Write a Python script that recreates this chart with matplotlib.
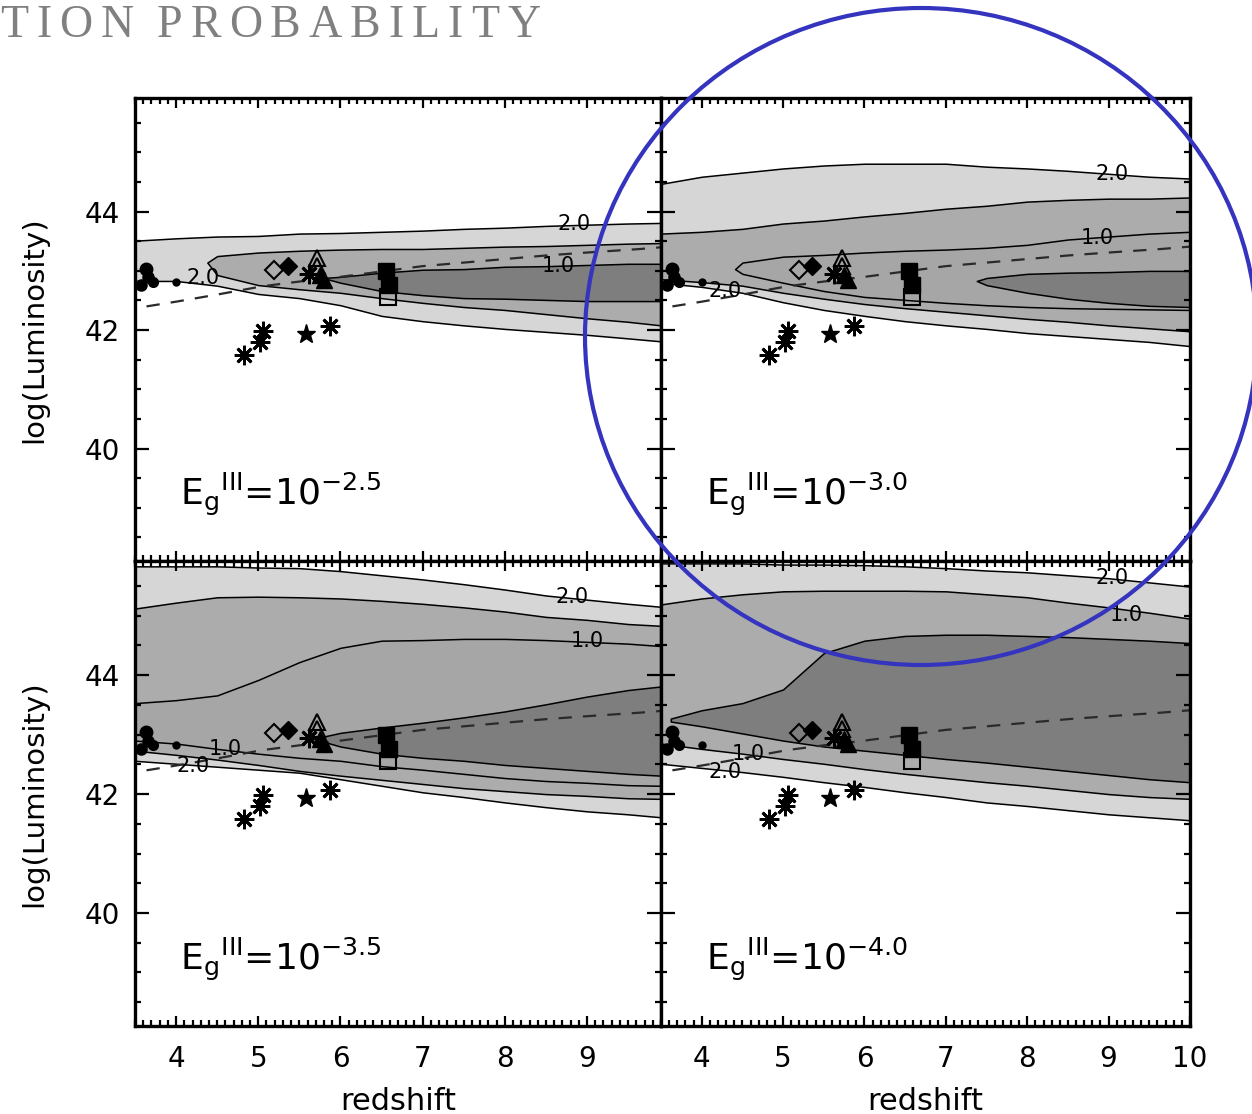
import matplotlib
matplotlib.use("Agg")
import matplotlib.pyplot as plt
from matplotlib.patches import Ellipse
from matplotlib.ticker import MultipleLocator

W, H = 1252, 1114

# redshift grids used by the contour boundaries
z_left = [3.5, 4.0, 4.5, 5.0, 5.5, 6.0, 6.5, 7.0, 7.5, 8.0, 8.5, 9.0, 9.5, 9.9]
z_right = [3.5, 4.0, 4.5, 5.0, 5.5, 6.0, 6.5, 7.0, 7.5, 8.0, 8.5, 9.0, 9.5, 10.0]

# panel a : Eg = 10^-2.5
a_light_hi = [43.51, 43.55, 43.58, 43.59, 43.63, 43.64, 43.66, 43.68, 43.71, 43.73, 43.76, 43.78, 43.80, 43.81]
a_light_lo = [42.83, 42.83, 42.75, 42.61, 42.54, 42.42, 42.24, 42.15, 42.08, 42.02, 41.97, 41.92, 41.86, 41.81]
a_mid_z = [4.38, 4.5, 5.0, 5.5, 6.0, 6.5, 7.0, 7.5, 8.0, 8.5, 9.0, 9.5, 9.9]
a_mid_hi = [43.14, 43.25, 43.31, 43.34, 43.36, 43.37, 43.37, 43.39, 43.41, 43.42, 43.44, 43.46, 43.47]
a_mid_lo = [43.14, 42.93, 42.76, 42.69, 42.63, 42.54, 42.46, 42.39, 42.34, 42.27, 42.20, 42.14, 42.08]
a_dark_z = [5.79, 6.0, 6.5, 7.0, 7.5, 8.0, 8.5, 9.0, 9.5, 9.9]
a_dark_hi = [42.88, 42.90, 42.97, 43.02, 43.03, 43.07, 43.08, 43.10, 43.12, 43.12]
a_dark_lo = [42.88, 42.80, 42.66, 42.59, 42.54, 42.53, 42.51, 42.49, 42.49, 42.49]

# panel b : Eg = 10^-3.0
b_light_hi = [44.47, 44.59, 44.66, 44.73, 44.78, 44.81, 44.81, 44.81, 44.76, 44.73, 44.69, 44.64, 44.59, 44.56]
b_light_lo = [42.80, 42.73, 42.63, 42.47, 42.34, 42.24, 42.15, 42.08, 42.02, 41.95, 41.90, 41.85, 41.80, 41.73]
b_mid_hi = [43.63, 43.66, 43.71, 43.80, 43.85, 43.92, 43.98, 44.05, 44.10, 44.17, 44.20, 44.22, 44.22, 44.24]
b_mid_lo = [42.86, 42.81, 42.75, 42.63, 42.53, 42.44, 42.37, 42.31, 42.25, 42.19, 42.14, 42.08, 42.03, 41.98]
b_lens_z = [4.41, 4.5, 5.0, 5.5, 6.0, 6.5, 7.0, 7.5, 8.0, 8.5, 9.0, 9.5, 10.0]
b_lens_hi = [43.03, 43.14, 43.24, 43.27, 43.31, 43.34, 43.36, 43.39, 43.44, 43.53, 43.58, 43.63, 43.66]
b_lens_lo = [43.03, 42.95, 42.80, 42.66, 42.56, 42.51, 42.46, 42.42, 42.39, 42.37, 42.36, 42.35, 42.34]
b_dark_z = [7.38, 7.5, 8.0, 8.5, 9.0, 9.5, 10.0]
b_dark_hi = [42.83, 42.88, 42.95, 42.97, 42.98, 43.00, 43.00]
b_dark_lo = [42.83, 42.76, 42.63, 42.53, 42.46, 42.41, 42.39]

# panel c : Eg = 10^-3.5
c_light_hi = [45.83, 45.83, 45.83, 45.81, 45.80, 45.75, 45.68, 45.61, 45.53, 45.44, 45.34, 45.27, 45.20, 45.15]
c_light_lo = [42.56, 42.51, 42.46, 42.41, 42.36, 42.25, 42.14, 42.03, 41.95, 41.86, 41.78, 41.71, 41.66, 41.61]
c_mid_hi = [45.12, 45.22, 45.31, 45.32, 45.31, 45.29, 45.25, 45.20, 45.14, 45.07, 44.98, 44.93, 44.86, 44.83]
c_mid_lo = [42.73, 42.66, 42.58, 42.49, 42.39, 42.31, 42.24, 42.17, 42.10, 42.05, 42.00, 41.97, 41.93, 41.92]
c_lens_hi = [43.53, 43.58, 43.66, 43.92, 44.22, 44.46, 44.58, 44.59, 44.61, 44.61, 44.59, 44.56, 44.53, 44.49]
c_lens_lo = [42.90, 42.85, 42.76, 42.68, 42.61, 42.56, 42.47, 42.41, 42.34, 42.27, 42.22, 42.19, 42.15, 42.14]
c_dark_z = [5.67, 6.0, 6.5, 7.0, 7.5, 8.0, 8.5, 9.0, 9.5, 9.9]
c_dark_hi = [42.93, 43.03, 43.12, 43.20, 43.29, 43.39, 43.51, 43.64, 43.75, 43.81]
c_dark_lo = [42.93, 42.80, 42.68, 42.61, 42.56, 42.49, 42.44, 42.39, 42.34, 42.31]

# panel d : Eg = 10^-4.0
d_light_hi = [45.88, 45.88, 45.88, 45.86, 45.86, 45.85, 45.83, 45.80, 45.76, 45.73, 45.68, 45.63, 45.56, 45.49]
d_light_lo = [42.51, 42.44, 42.37, 42.29, 42.20, 42.12, 42.03, 41.95, 41.86, 41.80, 41.73, 41.66, 41.61, 41.56]
d_mid_hi = [45.19, 45.29, 45.36, 45.41, 45.42, 45.42, 45.42, 45.41, 45.36, 45.31, 45.22, 45.14, 45.05, 44.95]
d_mid_lo = [42.85, 42.76, 42.68, 42.59, 42.51, 42.42, 42.34, 42.27, 42.20, 42.14, 42.07, 42.00, 41.95, 41.92]
d_dark_z = [3.62, 4.0, 4.5, 5.0, 5.5, 6.0, 6.5, 7.0, 7.5, 8.0, 8.5, 9.0, 9.5, 10.0]
d_dark_hi = [43.27, 43.41, 43.53, 43.76, 44.37, 44.58, 44.66, 44.68, 44.68, 44.66, 44.64, 44.61, 44.58, 44.54]
d_dark_lo = [43.22, 43.14, 43.02, 42.90, 42.80, 42.73, 42.66, 42.59, 42.53, 42.46, 42.39, 42.32, 42.25, 42.20]

# contour labels (z, logL, text)
a_labels = [(8.84, 43.80, "2.0"), (8.65, 43.08, "1.0"), (4.33, 42.88, "2.0")]
b_labels = [(9.04, 44.64, "2.0"), (8.86, 43.55, "1.0"), (4.29, 42.66, "2.0")]
c_labels = [(8.82, 45.31, "2.0"), (9.00, 44.58, "1.0"), (4.60, 42.76, "1.0"), (4.21, 42.47, "2.0")]
d_labels = [(9.04, 45.64, "2.0"), (9.22, 45.02, "1.0"), (4.57, 42.68, "1.0"), (4.29, 42.37, "2.0")]

eg_text = [r"E$_{\rm g}$$^{\rm III}$=10$^{-2.5}$", r"E$_{\rm g}$$^{\rm III}$=10$^{-3.0}$",
           r"E$_{\rm g}$$^{\rm III}$=10$^{-3.5}$", r"E$_{\rm g}$$^{\rm III}$=10$^{-4.0}$"]

# observed sources (same in every panel)
circ_z = [3.57, 3.63, 3.66, 3.72, 4.0]
circ_L = [42.76, 43.04, 42.90, 42.82, 42.82]
circ_ms = [8, 9, 8, 7, 5]
odiam_z, odiam_L = [5.19], [43.02]
fdiam_z, fdiam_L = [5.36], [43.08]
otri_z, otri_L = [5.72, 5.72], [43.22, 43.09]
ftri_z, ftri_L = [5.75, 5.80], [42.93, 42.85]
fsq_z, fsq_L = [6.55, 6.59], [43.00, 42.76]
osq_z, osq_L = [6.58], [42.56]
ast_z = [4.83, 5.02, 5.06, 5.62, 5.87]
ast_L = [41.58, 41.80, 41.98, 42.95, 42.07]
star_z, star_L = [5.58], [41.93]

# dashed model curve
model_z = [3.64, 4.0, 4.5, 5.05, 5.5, 5.95, 6.5, 7.0, 7.5, 8.0, 8.5, 9.0, 9.65, 10.0]
model_L = [42.40, 42.48, 42.60, 42.74, 42.82, 42.89, 42.99, 43.08, 43.14, 43.20, 43.26, 43.31, 43.37, 43.41]

LIGHT, MID, LENS, DARK = "#d6d6d6", "#acacac", "#a6a6a6", "#7e7e7e"

panels = [
    [(z_left, a_light_hi, a_light_lo, LIGHT), (a_mid_z, a_mid_hi, a_mid_lo, MID),
     (a_dark_z, a_dark_hi, a_dark_lo, DARK)],
    [(z_right, b_light_hi, b_light_lo, LIGHT), (z_right, b_mid_hi, b_mid_lo, MID),
     (b_lens_z, b_lens_hi, b_lens_lo, LENS), (b_dark_z, b_dark_hi, b_dark_lo, DARK)],
    [(z_left, c_light_hi, c_light_lo, LIGHT), (z_left, c_mid_hi, c_mid_lo, MID),
     (z_left, c_lens_hi, c_lens_lo, LENS), (c_dark_z, c_dark_hi, c_dark_lo, DARK)],
    [(z_right, d_light_hi, d_light_lo, LIGHT), (z_right, d_mid_hi, d_mid_lo, MID),
     (d_dark_z, d_dark_hi, d_dark_lo, DARK)],
]
labels = [a_labels, b_labels, c_labels, d_labels]

fig = plt.figure(figsize=(W / 100, H / 100), dpi=100)

x0, xm, x1 = 135 / W, 661 / W, 1190 / W
y_top, y_mid, y_bot = 1 - 98 / H, 1 - 561 / H, 1 - 1026 / H
rects = [
    [x0, y_mid, xm - x0, y_top - y_mid],
    [xm, y_mid, x1 - xm, y_top - y_mid],
    [x0, y_bot, xm - x0, y_mid - y_bot],
    [xm, y_bot, x1 - xm, y_mid - y_bot],
]

for i, rect in enumerate(rects):
    ax = fig.add_axes(rect)
    left = i % 2 == 0
    bottom = i >= 2
    for z, hi, lo, shade in panels[i]:
        ax.fill_between(z, lo, hi, facecolor=shade, edgecolor="black", linewidth=1.1, zorder=1)
    ax.plot(model_z, model_L, color="#2a2a2a", lw=1.6, dashes=(6, 5), zorder=2)

    for z, L, ms in zip(circ_z, circ_L, circ_ms):
        ax.plot(z, L, "o", color="black", ms=ms, zorder=4)
    ax.plot(odiam_z, odiam_L, "D", mfc="none", mec="black", mew=1.5, ms=9, zorder=4)
    ax.plot(fdiam_z, fdiam_L, "D", color="black", ms=9, zorder=4)
    ax.plot(otri_z, otri_L, "^", mfc="none", mec="black", mew=1.5, ms=11, zorder=4)
    ax.plot(ftri_z, ftri_L, "^", color="black", ms=12, zorder=4)
    ax.plot(fsq_z, fsq_L, "s", color="black", ms=11, zorder=4)
    ax.plot(osq_z, osq_L, "s", mfc="none", mec="black", mew=1.5, ms=11, zorder=4)
    ax.plot(ast_z, ast_L, ls="none", marker=(8, 2, 0), mec="black", mew=2.0, ms=14, zorder=4)
    ax.plot(star_z, star_L, "*", color="black", ms=14, zorder=4)

    for z, L, s in labels[i]:
        ax.text(z, L, s, fontsize=15, ha="center", va="center", zorder=5)
    ax.text(4.05, 39.05, eg_text[i], fontsize=26, va="baseline", zorder=5)

    ax.set_xlim(3.5, 9.9 if left else 10.0)
    ax.set_ylim(38.1, 45.92)
    ax.xaxis.set_major_locator(MultipleLocator(1))
    ax.xaxis.set_minor_locator(MultipleLocator(0.1))
    ax.yaxis.set_major_locator(MultipleLocator(2))
    ax.yaxis.set_minor_locator(MultipleLocator(0.5))
    ax.tick_params(which="both", direction="in", top=True, right=True, width=1.6,
                   labelsize=20)
    ax.tick_params(axis="x", which="major", length=7, pad=14)
    ax.tick_params(axis="y", which="major", length=10, pad=11)
    ax.tick_params(which="minor", length=4)
    for sp in ax.spines.values():
        sp.set_linewidth(2.4)
    if not left:
        ax.set_yticklabels([])
    else:
        ax.set_ylabel("log(Luminosity)", fontsize=21, labelpad=26)
    if not bottom:
        ax.set_xticklabels([])
    else:
        ax.set_xlabel("redshift", fontsize=22, labelpad=10)

# cropped slide title, letter spaced
renderer = fig.canvas.get_renderer()
xpos = 0.0
for ch in "TION PROBABILITY":
    if ch == " ":
        xpos += 15
        continue
    t = fig.text(xpos / W, 1 - 37 / H, ch, fontsize=33, family="Liberation Serif",
                 color="#808080", va="baseline", ha="left")
    xpos += t.get_window_extent(renderer).width + 8

# blue highlight ellipse
ring = Ellipse((921 / W, 1 - 336.5 / H), 672 / W, 657 / H, transform=fig.transFigure,
               fill=False, edgecolor="#3434bf", linewidth=3.0)
fig.add_artist(ring)

fig.savefig("out.png", dpi=100)
